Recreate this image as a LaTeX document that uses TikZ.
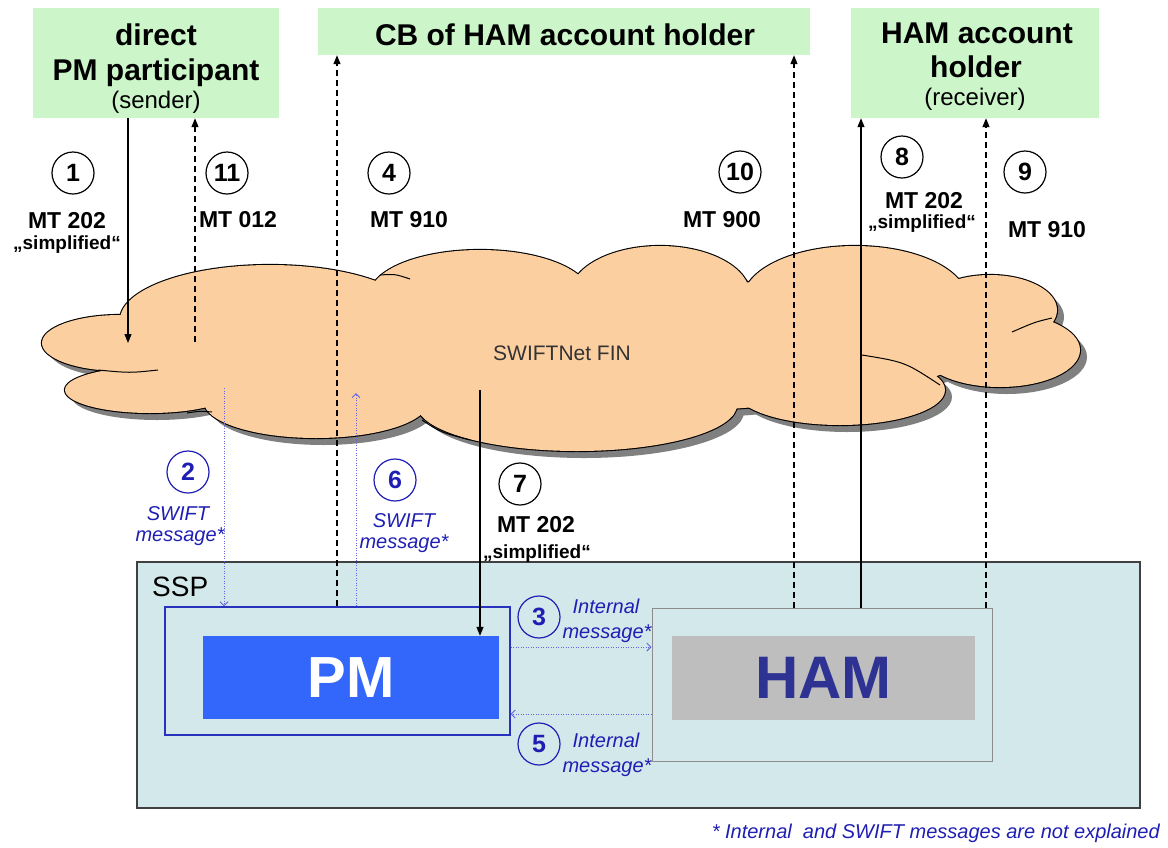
\documentclass[tikz,border=0pt]{standalone}
\usepackage{fontspec}
\setmainfont{Liberation Sans}
\usetikzlibrary{arrows.meta}
\usetikzlibrary{positioning}
\definecolor{boxgreen}{RGB}{204,245,202}
\definecolor{cloudfill}{RGB}{252,207,160}
\definecolor{sspfill}{RGB}{211,232,234}
\definecolor{pmblue}{RGB}{51,102,250}
\definecolor{pmframe}{RGB}{40,50,190}
\definecolor{hamgrey}{RGB}{190,190,190}
\definecolor{hamtext}{RGB}{46,50,146}
\definecolor{msgblue}{RGB}{30,30,180}
\definecolor{dotblue}{RGB}{100,100,225}
\newcommand{\fs}[1]{\fontsize{#1}{#1}\selectfont}
\tikzset{ %styles for boxes, labels and connectors
  greenbox/.style={fill=boxgreen, inner sep=0pt},
  titletext/.style={anchor=base, inner sep=0pt, font=\bfseries\fs{30}},
  subtext/.style={anchor=base, inner sep=0pt, font=\fs{24}},
  numcirc/.style={circle, draw=black, line width=1.2pt, minimum size=42pt, inner sep=0pt, font=\bfseries\fs{25}},
  bluecirc/.style={numcirc, draw=msgblue, text=msgblue},
  mtlabel/.style={anchor=base, inner sep=0pt, font=\bfseries\fs{23}},
  simplabel/.style={anchor=base, inner sep=0pt, font=\bfseries\fs{19}},
  msglabel/.style={anchor=base, inner sep=0pt, text=msgblue, font=\itshape\fs{20}},
  solidarrow/.style={line width=1.2pt, -{Triangle[length=9pt,width=7pt]}},
  dasharrow/.style={line width=1.2pt, dash pattern=on 6pt off 4pt, -{Triangle[length=9pt,width=7pt]}},
  dotarrow/.style={dotblue, line width=0.9pt, dash pattern=on 1pt off 1.5pt, -{Straight Barb[length=4pt,width=8pt]}}
}

\begin{document}
\begin{tikzpicture}[x=1pt,y=-1pt]
\useasboundingbox (0,0) rectangle (1168,847);

% participants
\node[greenbox, minimum width=246pt, minimum height=110pt] (sender) at (156,63) {};
\node[titletext] (sendera) at (156,45) {direct};
\node[titletext] (senderb) at (156,80) {PM participant};
\node[subtext] (senderc) at (156,108) {(sender)};
\node[greenbox, minimum width=492pt, minimum height=47pt] (cb) at (564,31.5) {};
\node[titletext] (cbtext) at (565,45) {CB of HAM account holder};
\node[greenbox, minimum width=248pt, minimum height=110pt] (receiver) at (975,63) {};
\node[titletext] (receivera) at (977,43) {HAM account};
\node[titletext] (receiverb) at (976,77) {holder};
\node[subtext] (receiverc) at (975,105) {(receiver)};

% SWIFTNet cloud: shadow, outline, fill
\foreach \cx/\cy/\rx/\ry in {120/343/78/28, 150/390/85/23, 270/320/150/55, 480/295/110/45,
    660/295/90/49, 855/300/112/54, 990/310/67/35, 1000/350/80/37, 840/390/105/35,
    577/405/160/46, 316/402/112/36, 560/345/420/70}
  \fill[black!50] (\cx+7,\cy+7) ellipse [x radius=\rx pt, y radius=\ry pt];
\foreach \cx/\cy/\rx/\ry in {120/343/78/28, 150/390/85/23, 270/320/150/55, 480/295/110/45,
    660/295/90/49, 855/300/112/54, 990/310/67/35, 1000/350/80/37, 840/390/105/35,
    577/405/160/46, 316/402/112/36, 560/345/420/70}
  \draw[line width=2.2pt, fill=cloudfill] (\cx,\cy) ellipse [x radius=\rx pt, y radius=\ry pt];
\foreach \cx/\cy/\rx/\ry in {120/343/78/28, 150/390/85/23, 270/320/150/55, 480/295/110/45,
    660/295/90/49, 855/300/112/54, 990/310/67/35, 1000/350/80/37, 840/390/105/35,
    577/405/160/46, 316/402/112/36, 560/345/420/70}
  \fill[cloudfill] (\cx,\cy) ellipse [x radius=\rx pt, y radius=\ry pt];
\draw[line width=1pt] (98,370) .. controls (130,373) .. (158,370);
\draw[line width=1pt] (380,275) .. controls (395,274) .. (410,279);
\draw[line width=1pt] (1052,318) .. controls (1035,322) .. (1012,332);
\draw[line width=1pt] (862,355) .. controls (905,362) .. (940,385);
\draw[line width=1pt] (422,420) .. controls (440,432) .. (470,440);
\draw[line width=1pt] (187,413) .. controls (200,411) .. (212,412);
\node[inner sep=0pt, text=black!80, font=\fs{21}] (fin) at (562,353) {SWIFTNet FIN};

% SSP with PM and HAM
\node[draw=black!75, line width=1.2pt, fill=sspfill, minimum width=1003pt, minimum height=246pt] (ssp) at (638.5,685) {};
\node[anchor=base west, inner sep=0pt, font=\fs{28}] (ssplabel) at (152,596) {SSP};
\node[draw=pmframe, line width=1.3pt, fill=sspfill, minimum width=345pt, minimum height=128pt] (pmouter) at (337.5,671) {};
\node[fill=pmblue, text=white, font=\bfseries\fs{58}, minimum width=296pt, minimum height=83pt] (pm) at (351,677.5) {PM};
\node[draw=black!45, line width=1pt, fill=sspfill, minimum width=340pt, minimum height=153pt] (hamouter) at (822,684.5) {};
\node[fill=hamgrey, text=hamtext, font=\bfseries\fs{60}, minimum width=303pt, minimum height=84pt] (ham) at (823.5,678) {HAM};

% end points
\coordinate (c1) at (128,343);
\coordinate (c11) at (195,342);
\coordinate (c2) at (224,388);
\coordinate (c6) at (356,393);
\coordinate (c7) at (480,390);
\coordinate (x4) at (337,0);
\coordinate (x10) at (794,0);
\coordinate (x8) at (861,0);
\coordinate (x9) at (986,0);
\coordinate (y3) at (0,647);
\coordinate (y5) at (0,714);

% messages
\draw[solidarrow] (sender.south -| c1) -- (c1);
\draw[dasharrow] (c11) -- (sender.south -| c11);
\draw[dasharrow] (pmouter.north -| x4) -- (cb.south -| x4);
\draw[dasharrow] (hamouter.north -| x10) -- (cb.south -| x10);
\draw[solidarrow] (hamouter.north -| x8) -- (receiver.south -| x8);
\draw[dasharrow] (hamouter.north -| x9) -- (receiver.south -| x9);
\draw[dotarrow] (c2) -- (pmouter.north -| c2);
\draw[dotarrow] (pmouter.north -| c6) -- (c6);
\draw[solidarrow] (c7) -- (pm.north -| c7);
\draw[dotarrow] (pmouter.east |- y3) -- (hamouter.west |- y3);
\draw[dotarrow] (hamouter.west |- y5) -- (pmouter.east |- y5);

% labels
\node[numcirc] (n1) at (73,173) {1};
\node[mtlabel] (t1) at (67,228) {MT 202};
\node[simplabel] (s1) at (67,249) {„simplified“};
\node[numcirc] (n11) at (227,173) {11};
\node[mtlabel] (t11) at (238,227) {MT 012};
\node[numcirc] (n4) at (389,173) {4};
\node[mtlabel] (t4) at (409,227) {MT 910};
\node[numcirc] (n10) at (740,172) {10};
\node[mtlabel] (t10) at (722,227) {MT 900};
\node[numcirc] (n8) at (902,157) {8};
\node[mtlabel] (t8) at (924,208) {MT 202};
\node[simplabel] (s8) at (922,228) {„simplified“};
\node[numcirc] (n9) at (1025,172) {9};
\node[mtlabel] (t9) at (1047,237) {MT 910};
\node[bluecirc] (n2) at (188,472) {2};
\node[msglabel] (m2a) at (178,520) {SWIFT};
\node[msglabel] (m2b) at (180,541) {message*};
\node[bluecirc] (n6) at (395,480) {6};
\node[msglabel] (m6a) at (404,527) {SWIFT};
\node[msglabel] (m6b) at (404,548) {message*};
\node[numcirc] (n7) at (520,484) {7};
\node[mtlabel] (t7) at (536,532) {MT 202};
\node[simplabel] (s7) at (537,558) {„simplified“};
\node[bluecirc] (n3) at (539,617) {3};
\node[msglabel] (m3a) at (606,613) {Internal};
\node[msglabel] (m3b) at (607,638) {message*};
\node[bluecirc] (n5) at (539,744) {5};
\node[msglabel] (m5a) at (606,747) {Internal};
\node[msglabel] (m5b) at (607,772) {message*};
\node[msglabel, anchor=base east] (note) at (1160,838) {* Internal\ \ and SWIFT messages are not explained};
\end{tikzpicture}
\end{document}
